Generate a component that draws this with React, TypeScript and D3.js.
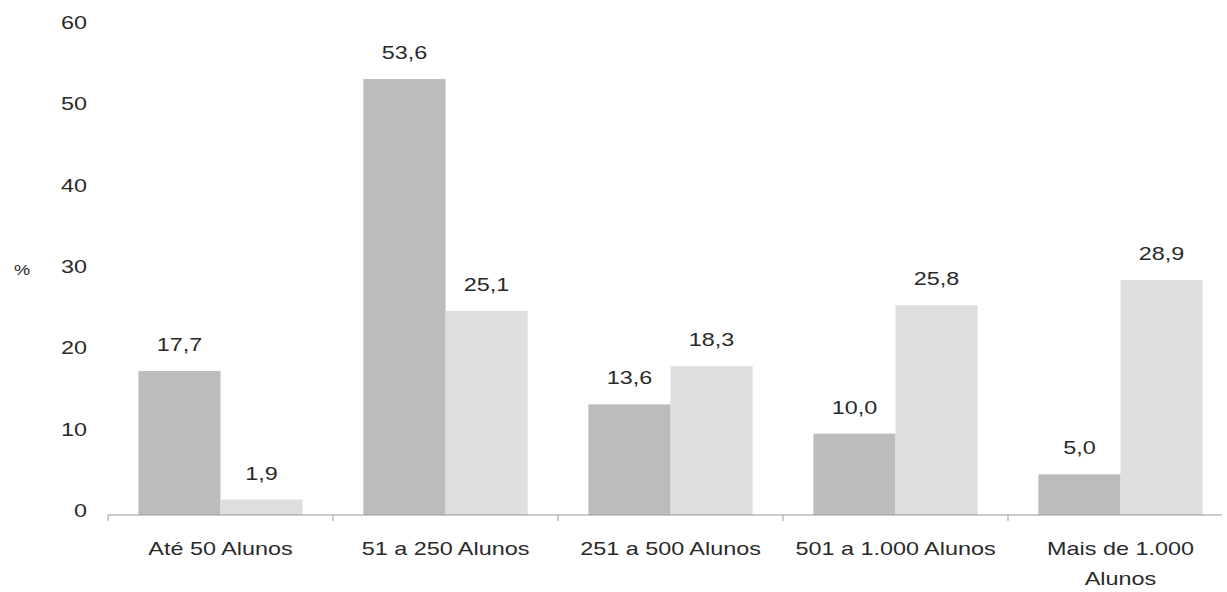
import React from "react";
import * as d3 from "d3";

const categories: string[][] = [
  ["Até 50 Alunos"],
  ["51 a 250 Alunos"],
  ["251 a 500 Alunos"],
  ["501 a 1.000 Alunos"],
  ["Mais de 1.000", "Alunos"],
];
const seriesA: number[] = [17.7, 53.6, 13.6, 10.0, 5.0];
const seriesB: number[] = [1.9, 25.1, 18.3, 25.8, 28.9];
const yTicks: number[] = [0, 10, 20, 30, 40, 50, 60];
const seriesKeys = ["A", "B"];
const seriesColors = ["#bcbcbc", "#dedede"];

const W = 1227;
const H = 592;
const SX = 1.3;
const FONT = "'Liberation Sans', Arial, sans-serif";
const TXT = "#2a2a2a";

function SText({ x, y, children, anchor = "middle", size = 18 }: any) {
  return (
    <text
      transform={`translate(${x},${y}) scale(${SX},1)`}
      textAnchor={anchor}
      fontFamily={FONT}
      fontSize={size}
      fill={TXT}
    >
      {children}
    </text>
  );
}

export default function App() {
  const labels = categories.map((c) => c.join(" "));
  const x0 = d3.scaleBand<string>().domain(labels).range([108, 1233]).padding(0);
  const groupW = x0.bandwidth() * 0.73;
  const x1 = d3.scaleBand<string>().domain(seriesKeys).range([0, groupW]).padding(0);
  const y = d3.scaleLinear().domain([0, 60]).range([515, 27]);
  const series = [seriesA, seriesB];
  const fmt = (v: number) => v.toFixed(1).replace(".", ",");

  return (
    <svg
      width={W}
      height={H}
      style={{ position: "absolute", left: 0, top: 0, background: "#fff" }}
    >
      {/* y tick labels */}
      {yTicks.map((t) => (
        <SText key={t} x={87} y={y(t) + 2} anchor="end">
          {t}
        </SText>
      ))}
      <SText x={22} y={y(30) + 4} size={14}>
        %
      </SText>

      {/* bars */}
      {labels.map((lab, i) => {
        const gx = (x0(lab) as number) + (x0.bandwidth() - groupW) / 2;
        return (
          <g key={lab}>
            {series.map((s, k) => {
              const bx = gx + (x1(seriesKeys[k]) as number);
              const v = s[i];
              return (
                <g key={k}>
                  <rect
                    x={bx}
                    y={y(v)}
                    width={x1.bandwidth()}
                    height={y(0) - y(v)}
                    fill={seriesColors[k]}
                  />
                  <SText x={bx + x1.bandwidth() / 2} y={y(v) - 20}>
                    {fmt(v)}
                  </SText>
                </g>
              );
            })}
          </g>
        );
      })}

      {/* x axis */}
      <line x1={108} x2={1222} y1={y(0)} y2={y(0)} stroke="#999" strokeWidth={1} />
      {labels.map((lab) => (
        <line
          key={lab}
          x1={x0(lab) as number}
          x2={x0(lab) as number}
          y1={y(0)}
          y2={y(0) + 6}
          stroke="#999"
          strokeWidth={1}
        />
      ))}
      {categories.map((lines, i) => {
        const cx = (x0(labels[i]) as number) + x0.bandwidth() / 2;
        return lines.map((ln, j) => (
          <SText key={`${i}-${j}`} x={cx} y={555 + j * 30}>
            {ln}
          </SText>
        ));
      })}
    </svg>
  );
}
